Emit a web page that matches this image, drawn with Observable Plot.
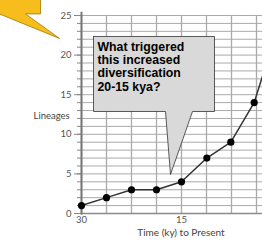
<!DOCTYPE html>
<html>
<head>
<meta charset="utf-8">
<script src="https://cdn.jsdelivr.net/npm/d3@7"></script>
<script src="https://cdn.jsdelivr.net/npm/@observablehq/plot@0.6"></script>
<style>
  html, body { margin: 0; padding: 0; background: #fff; overflow: hidden; }
  #chart { width: 262px; height: 244px; }
</style>
</head>
<body>
<div id="chart"></div>
<script>
// Data
const timeKy   = [30, 26.25, 22.5, 18.75, 15, 11.2, 7.6, 4.1, 0];
const lineages = [1, 2, 3, 3, 4, 7, 9, 14, 25];

// Tick / grid values
const xTickLabels = [30, 15];
const xGrid = [30, 26.25, 22.5, 18.75, 15, 11.25, 7.5, 3.75];
const yTickLabels = [0, 5, 10, 15, 20, 25];
const yGrid = [0,1,2,3,4,5,6,7,8,9,10,11,12,13,14,15,16,17,18,19,20,21,22,23,24,25];

// Annotation shapes (in data units)
const calloutGrayX = [28.2, 10.05, 10.05, 13.35, 16.65, 17.4, 28.2, 28.2];
const calloutGrayY = [22.35, 22.35, 12.88, 12.88, 4.92, 12.88, 12.88, 22.35];
const calloutYellowX = [42.9, 36.15, 36.15, 38.4, 33.3, 42.9, 42.9];
const calloutYellowY = [27.6, 27.6, 25.2, 25.2, 22.1, 25.4, 27.6];
const questionText = "What triggered\nthis increased\ndiversification\n20-15 kya?";

const series = timeKy.map((t, i) => ({t, n: lineages[i]}));
const gray = calloutGrayX.map((x, i) => ({x, y: calloutGrayY[i]}));
const yellow = calloutYellowX.map((x, i) => ({x, y: calloutYellowY[i]}));

const font = "Lato, 'Open Sans', sans-serif";

const chart = Plot.plot({
  width: 262,
  height: 244,
  marginLeft: 81,
  marginRight: 0,
  marginTop: 15,
  marginBottom: 31,
  style: {fontFamily: font, fontSize: "9px", color: "#555", background: "#fff", overflow: "visible"},
  x: {domain: [30, 0], range: [81, 281], axis: null},
  y: {domain: [0, 25], axis: null},
  marks: [
    Plot.ruleY(yGrid, {y: d => d, x1: 30, x2: 0, stroke: "#aaa", strokeWidth: 1}),
    Plot.ruleX(xGrid, {x: d => d, y1: 0, y2: 25, stroke: "#aaa", strokeWidth: 1.3}),
    Plot.axisY(yGrid, {tickSize: 4, text: null, stroke: "#888", strokeWidth: 1}),
    Plot.axisY(yTickLabels, {tickSize: 7, tickPadding: 3, stroke: "#888", fill: "#555", fontSize: 9.5, fontFamily: font}),
    Plot.axisX(xTickLabels, {tickSize: 0, tickPadding: 3, fill: "#555", fontSize: 9.5, fontFamily: font}),
    Plot.ruleY([0], {x1: 30, x2: 0, stroke: "#8a8a8a", strokeWidth: 1.6}),
    Plot.ruleX([30], {y1: -0.2, y2: 25.4, stroke: "#777", strokeWidth: 2}),
    Plot.line(series, {x: "t", y: "n", stroke: "#333", strokeWidth: 1.5}),
    Plot.dot(series, {x: "t", y: "n", r: 3.6, fill: "#000", stroke: "none"}),
    Plot.line(gray, {x: "x", y: "y", fill: "#d9d9d9", stroke: "#333", strokeWidth: 0.8, curve: "linear"}),
    Plot.text([questionText], {x: 27.6, y: 21.75, text: d => d, textAnchor: "start", lineAnchor: "top",
      lineHeight: 1.08, fontSize: 12.3, fontWeight: "bold", fontFamily: "'Liberation Sans', Arial, sans-serif", fill: "#000"}),
    Plot.line(yellow, {x: "x", y: "y", fill: "#f6bd1c", stroke: "#a27a00", strokeWidth: 0.8}),
    Plot.text(["Lineages"], {frameAnchor: "left", dx: -48, dy: 1, text: d => d, fontSize: 9.5, fill: "#444", fontFamily: font}),
    Plot.text(["Time (ky) to Present"], {frameAnchor: "bottom", dx: 9, dy: 22, text: d => d, fontSize: 10, fill: "#444", fontFamily: font})
  ]
});
document.getElementById("chart").appendChild(chart);
</script>
</body>
</html>
